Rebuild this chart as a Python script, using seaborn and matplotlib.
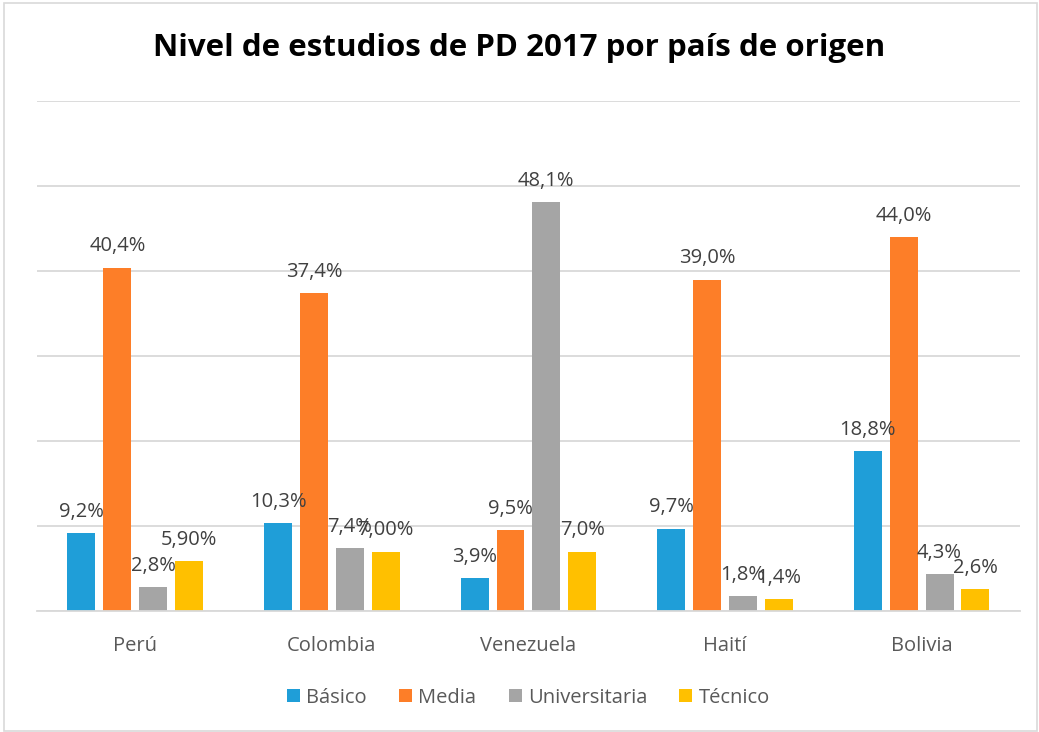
import matplotlib
matplotlib.use("Agg")
import matplotlib.pyplot as plt
import pandas as pd
import seaborn as sns
from matplotlib.patches import Rectangle

# Chart data
countries = ["Perú", "Colombia", "Venezuela", "Haití", "Bolivia"]
levels = ["Básico", "Media", "Universitaria", "Técnico"]
basico = [9.2, 10.3, 3.9, 9.7, 18.8]
media = [40.4, 37.4, 9.5, 39.0, 44.0]
universitaria = [2.8, 7.4, 48.1, 1.8, 4.3]
tecnico = [5.9, 7.0, 7.0, 1.4, 2.6]
basico_labels = ["9,2%", "10,3%", "3,9%", "9,7%", "18,8%"]
media_labels = ["40,4%", "37,4%", "9,5%", "39,0%", "44,0%"]
universitaria_labels = ["2,8%", "7,4%", "48,1%", "1,8%", "4,3%"]
tecnico_labels = ["5,90%", "7,00%", "7,0%", "1,4%", "2,6%"]
colors = ["#1F9ED8", "#FD7E28", "#A5A5A5", "#FFC000"]

values = [basico, media, universitaria, tecnico]
labels = [basico_labels, media_labels, universitaria_labels, tecnico_labels]

# Long-form table for seaborn
rows = []
for lvl, vals in zip(levels, values):
    for c, v in zip(countries, vals):
        rows.append({"País": c, "Nivel": lvl, "Porcentaje": v})
df = pd.DataFrame(rows)

sns.set_theme(style="white")
plt.rcParams['font.family'] = ['Open Sans', 'DejaVu Sans']

fig = plt.figure(figsize=(10.39, 7.32), dpi=100)
ax = fig.add_axes([0.0356, 0.1653, 0.946, 0.6967])

sns.barplot(data=df, x="País", y="Porcentaje", hue="Nivel", order=countries,
            hue_order=levels, palette=colors, width=0.73, gap=0.22,
            saturation=1, ax=ax, edgecolor="none")

# Data labels
for cont, labs in zip(ax.containers, labels):
    ax.bar_label(cont, labels=labs, padding=8, fontsize=14.5, color="#404040")

ax.set_ylim(0, 60)
ax.set_yticks(range(0, 70, 10))
ax.yaxis.grid(True, color="#D9D9D9", linewidth=1.3)
ax.set_axisbelow(True)
ax.tick_params(axis="y", left=False, labelleft=False)
ax.tick_params(axis="x", bottom=False, pad=12, labelsize=14.5, labelcolor="#595959")
ax.set_xlabel("")
ax.set_ylabel("")
for s in ["top", "right", "left"]:
    ax.spines[s].set_visible(False)
ax.spines["bottom"].set_color("#D9D9D9")
ax.spines["bottom"].set_linewidth(1.3)

sns.move_legend(ax, "upper center", bbox_to_anchor=(0.5, -0.115), ncol=4,
                frameon=False, title=None, fontsize=14.5, handlelength=0.65,
                handleheight=0.65, columnspacing=1.6, handletextpad=0.3)
for t in ax.get_legend().get_texts():
    t.set_color("#595959")

fig.text(0.5, 0.935, "Nivel de estudios de PD 2017 por país de origen",
         ha="center", va="center", fontsize=22.5, fontweight="bold", color="#000000")

# Chart border
fig.patches.append(Rectangle((0.004, 0.002), 0.994, 0.994, transform=fig.transFigure,
                             fill=False, edgecolor="#D9D9D9", linewidth=1.2))

fig.savefig("out.png", dpi=100)
